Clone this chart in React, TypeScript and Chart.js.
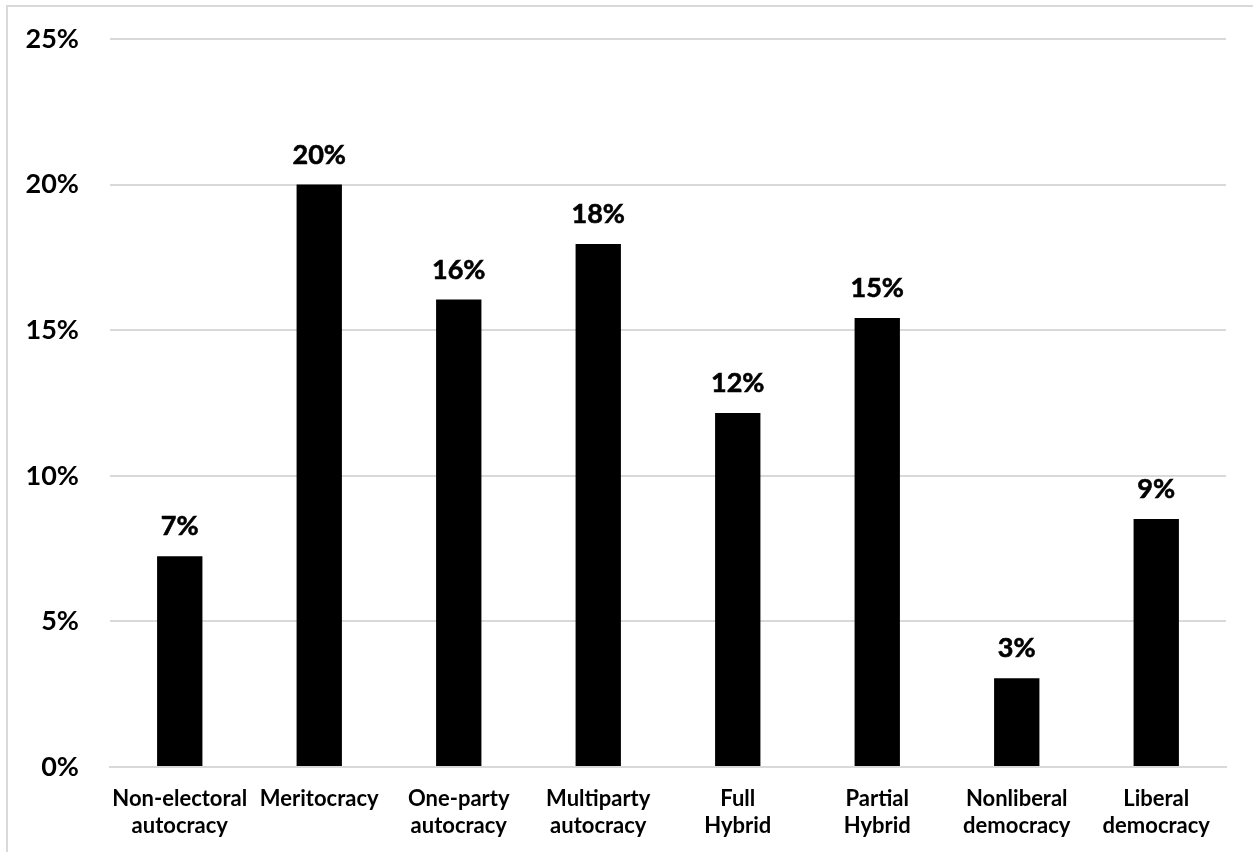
import React, { useEffect, useRef } from "react";
import { Chart, registerables } from "chart.js";

Chart.register(...registerables);

// Regime categories, two lines each
const categories: string[][] = [
  ["Non-electoral", "autocracy"],
  ["Meritocracy"],
  ["One-party", "autocracy"],
  ["Multiparty", "autocracy"],
  ["Full", "Hybrid"],
  ["Partial", "Hybrid"],
  ["Nonliberal", "democracy"],
  ["Liberal", "democracy"],
];

// Share of cases per regime type (percent)
const shares: number[] = [7.24, 20.0, 16.05, 17.96, 12.16, 15.42, 3.05, 8.52];

// Y axis range and tick step (percent)
const yMin = 0;
const yMax = 25;
const yStep = 5;

const FONT = "Lato, 'Noto Sans', sans-serif";

const valueLabels = {
  id: "valueLabels",
  afterDatasetsDraw(chart: any) {
    const ctx = chart.ctx;
    const meta = chart.getDatasetMeta(0);
    const data = chart.data.datasets[0].data as number[];
    ctx.save();
    ctx.font = `bold 27px ${FONT}`;
    ctx.fillStyle = "#000000";
    ctx.textAlign = "center";
    ctx.textBaseline = "alphabetic";
    meta.data.forEach((bar: any, i: number) => {
      const x = bar.x;
      const y = bar.y - 21;
      ctx.fillText(`${Math.round(data[i])}%`, x, y);
      ctx.lineWidth = 0.6;
      ctx.strokeStyle = "#000000";
      ctx.strokeText(`${Math.round(data[i])}%`, x, y);
    });
    ctx.restore();
  },
};

export default function App() {
  const canvasRef = useRef<HTMLCanvasElement | null>(null);

  useEffect(() => {
    if (!canvasRef.current) return;
    const chart = new Chart(canvasRef.current, {
      type: "bar",
      data: {
        labels: categories,
        datasets: [
          {
            data: shares,
            backgroundColor: "#000000",
            borderWidth: 0,
            barPercentage: 0.325,
            categoryPercentage: 1,
          },
        ],
      },
      options: {
        responsive: false,
        animation: false,
        layout: { padding: { left: 0, right: 27, top: 39, bottom: 0 } },
        plugins: {
          legend: { display: false },
          tooltip: { enabled: false },
          title: { display: false },
        },
        scales: {
          x: {
            grid: { display: false, drawTicks: false },
            border: { display: true, color: "#d9d9d9", width: 2 },
            ticks: {
              color: "#000000",
              font: { family: FONT, size: 22, weight: "bold", lineHeight: 1.2 },
              padding: 19,
              maxRotation: 0,
              autoSkip: false,
            },
            afterFit(scale: any) {
              scale.height = 85;
            },
          },
          y: {
            min: yMin,
            max: yMax,
            grid: { color: "#d9d9d9", lineWidth: 2, drawTicks: false },
            border: { display: false },
            ticks: {
              stepSize: yStep,
              color: "#000000",
              font: { family: FONT, size: 27, weight: "bold" },
              padding: 31,
              callback: (v: any) => `${v}%`,
            },
            afterFit(scale: any) {
              scale.width = 110;
              scale.paddingTop = 0;
              scale.paddingBottom = 0;
            },
          },
        },
      },
      plugins: [valueLabels],
    });
    return () => chart.destroy();
  }, []);

  return (
    <div
      style={{
        position: "absolute",
        left: 0,
        top: 0,
        width: 1253,
        height: 852,
        background: "#ffffff",
        overflow: "hidden",
      }}
    >
      <div
        style={{
          position: "absolute",
          left: 6,
          top: 5,
          width: 1260,
          height: 860,
          borderLeft: "2px solid #d9d9d9",
          borderTop: "2px solid #d9d9d9",
        }}
      />
      <canvas
        ref={canvasRef}
        width={1253}
        height={852}
        style={{ position: "absolute", left: 0, top: 0 }}
      />
    </div>
  );
}
